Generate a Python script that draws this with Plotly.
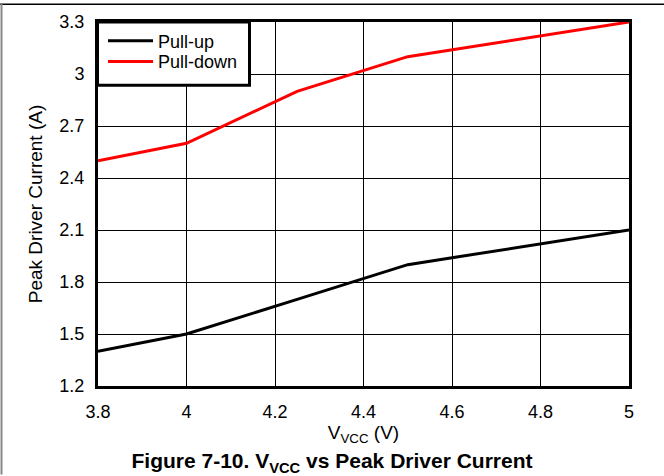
import plotly.graph_objects as go

vcc = [3.8, 4.0, 4.25, 4.5, 5.0]
pull_up = [1.4, 1.5, 1.7, 1.9, 2.1]
pull_down = [2.5, 2.6, 2.9, 3.1, 3.3]

x_ticks = [3.8, 4.0, 4.2, 4.4, 4.6, 4.8, 5.0]
x_tick_text = ["3.8", "4", "4.2", "4.4", "4.6", "4.8", "5"]
y_ticks = [1.2, 1.5, 1.8, 2.1, 2.4, 2.7, 3.0, 3.3]
y_tick_text = ["1.2", "1.5", "1.8", "2.1", "2.4", "2.7", "3", "3.3"]

W, H = 664, 476
L, R, T, B = 98, 35, 18.5, 89.5
pw, ph = W - L - R, H - T - B

def px(xp):
    return (xp - L) / pw

def py(yp):
    return (H - B - yp) / ph

font = "Liberation Sans, Arial, sans-serif"
fs = 18

fig = go.Figure()
fig.add_trace(go.Scatter(x=vcc, y=pull_up, mode="lines", name="Pull-up",
                         line=dict(color="#000000", width=3), legend="legend"))
fig.add_trace(go.Scatter(x=vcc, y=pull_down, mode="lines", name="Pull-down",
                         line=dict(color="#ff0000", width=3), legend="legend2"))

axis_common = dict(showline=True, linewidth=3, linecolor="#000", mirror=True,
                   showgrid=True, gridcolor="#000", gridwidth=1, zeroline=False,
                   ticks="", tickfont=dict(size=fs, color="#000", family=font))

fig.update_xaxes(range=[3.8, 5.0], tickvals=x_ticks, ticktext=x_tick_text,
                 ticklabelstandoff=7,
                 title=dict(text="V<sub>VCC</sub> (V)", font=dict(size=19, color="#000", family=font),
                            standoff=1),
                 **axis_common)
fig.update_yaxes(range=[1.2, 3.3], tickvals=y_ticks, ticktext=y_tick_text,
                 ticklabelstandoff=7,
                 title=dict(text="Peak Driver Current (A)", font=dict(size=19, color="#000", family=font),
                            standoff=12),
                 **axis_common)

shapes = [
    # legend box
    dict(type="rect", xref="paper", yref="paper", x0=px(97.5), x1=px(249.5), y0=py(82.5), y1=1,
         line=dict(color="#000", width=3), fillcolor="#fff", layer="above"),
    # page border top
    dict(type="line", xref="paper", yref="paper", x0=px(0), x1=px(W), y0=py(0.5), y1=py(0.5),
         line=dict(color="#000", width=1.5)),
    # page border left
    dict(type="line", xref="paper", yref="paper", x0=px(1.5), x1=px(1.5), y0=py(0), y1=py(H),
         line=dict(color="#888", width=2)),
]

leg_common = dict(xanchor="left", yanchor="top", bgcolor="rgba(0,0,0,0)", borderwidth=0,
                  font=dict(size=fs, color="#000", family=font), itemwidth=45)

fig.update_layout(
    width=W, height=H,
    margin=dict(l=L, r=R, t=T, b=B),
    paper_bgcolor="#fff", plot_bgcolor="#fff",
    font=dict(family=font, color="#000"),
    title=dict(text="<b>Figure 7-10. V<sub>VCC</sub> vs Peak Driver Current</b>",
               x=0.5, xref="container", xanchor="center",
               y=(H - 461) / H, yref="container", yanchor="middle",
               font=dict(size=21, color="#000", family=font)),
    legend=dict(x=px(103), y=py(19), **leg_common),
    legend2=dict(x=px(103), y=py(40), **leg_common),
    showlegend=True,
    shapes=shapes,
)

fig.write_html("out.html", config={"displayModeBar": False},
               post_script="document.body.style.margin='0';document.body.style.padding='0';document.body.style.overflow='hidden';")
